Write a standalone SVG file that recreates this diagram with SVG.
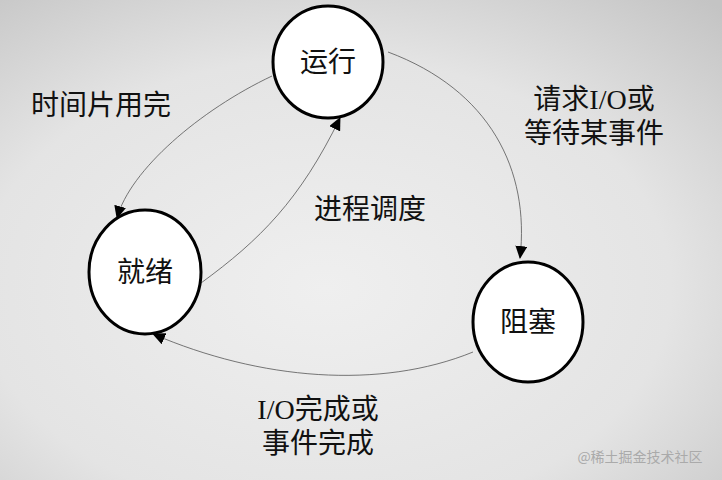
<svg xmlns="http://www.w3.org/2000/svg" width="722" height="480" viewBox="0 0 722 480">
<defs>
<radialGradient id="bg" cx="0.45" cy="0.6" r="0.8">
<stop offset="0" stop-color="#efefef"/><stop offset="0.6" stop-color="#e4e4e4"/><stop offset="1" stop-color="#c4c4c4"/>
</radialGradient>
<marker id="a" markerWidth="13" markerHeight="12" refX="12" refY="6" orient="auto" markerUnits="userSpaceOnUse" viewBox="0 0 13 12">
<path d="M0,0 L13,6 L0,12 z" fill="#000"/>
</marker>
<style>
.n{fill:#fff;stroke:#000;stroke-width:3}
.c{fill:none;stroke:#555;stroke-width:0.8;marker-end:url(#a)}
.t{font-family:"Liberation Serif","Noto Sans CJK SC",serif;font-size:28px;fill:#111;text-anchor:middle}
</style>
</defs>
<rect width="722" height="480" fill="url(#bg)"/>
<g id="connectors">
<path class="c" d="M272,76 C200,110 130,170 117,218"/>
<path class="c" d="M201,283 C260,240 300,200 340,118"/>
<path class="c" d="M388,52 C490,90 530,170 520,258"/>
<path class="c" d="M473,352 C380,390 260,380 153,334"/>
</g>
<g id="n-run"><ellipse class="n" cx="328" cy="62" rx="55" ry="56"/><text class="t" x="328" y="72">运行</text></g>
<g id="n-ready"><ellipse class="n" cx="145" cy="272" rx="56" ry="62"/><text class="t" x="145" y="282">就绪</text></g>
<g id="n-block"><ellipse class="n" cx="528" cy="322" rx="55" ry="60"/><text class="t" x="528" y="332">阻塞</text></g>
<g id="labels">
<text class="t" x="101" y="115">时间片用完</text>
<text class="t" x="594" y="109">请求I/O或</text>
<text class="t" x="594" y="143">等待某事件</text>
<text class="t" x="370" y="219">进程调度</text>
<text class="t" x="318" y="419">I/O完成或</text>
<text class="t" x="318" y="453">事件完成</text>
<text x="640" y="462" style="font-family:'Noto Sans CJK SC',sans-serif;font-size:14px;fill:#aaa;text-anchor:middle">@稀土掘金技术社区</text>
</g>
</svg>
